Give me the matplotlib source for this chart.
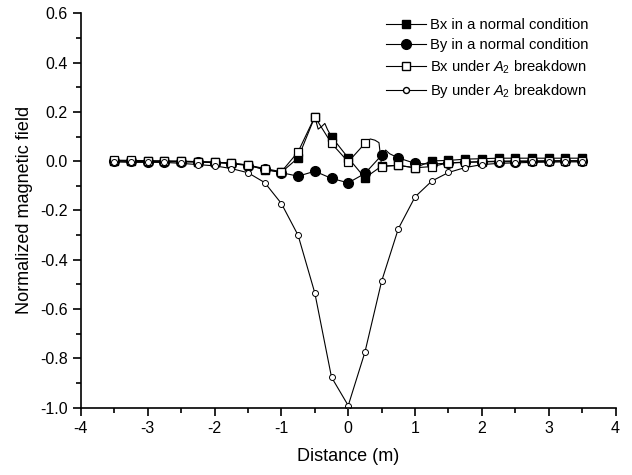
import matplotlib
matplotlib.use("Agg")
import matplotlib.pyplot as plt
from matplotlib.lines import Line2D

plt.rcParams['font.family'] = ['Liberation Sans', 'DejaVu Sans']
plt.rcParams['mathtext.fontset'] = 'custom'
plt.rcParams['mathtext.rm'] = 'Liberation Sans'
plt.rcParams['mathtext.it'] = 'Liberation Sans:italic'
plt.rcParams['axes.unicode_minus'] = False

# marker positions (m)
x = [-3.5, -3.25, -3.0, -2.75, -2.5, -2.25, -2.0, -1.75, -1.5, -1.25, -1.0,
     -0.75, -0.5, -0.25, 0.0, 0.25, 0.5, 0.75, 1.0, 1.25, 1.5, 1.75, 2.0,
     2.25, 2.5, 2.75, 3.0, 3.25, 3.5]

bx_normal = [0.002, 0.001, 0.0, 0.0, -0.001, -0.002, -0.004, -0.008, -0.016,
             -0.035, -0.045, 0.013, 0.18, 0.099, 0.013, -0.068, -0.02, -0.017,
             -0.027, 0.001, 0.003, 0.008, 0.01, 0.012, 0.012, 0.012, 0.012,
             0.012, 0.012]
by_normal = [0.0, -0.001, -0.002, -0.002, -0.003, -0.004, -0.006, -0.01, -0.018,
             -0.032, -0.047, -0.061, -0.041, -0.07, -0.088, -0.05, 0.024, 0.013,
             -0.009, -0.012, -0.008, -0.005, -0.003, -0.002, -0.002, -0.001,
             -0.001, 0.0, 0.0]
bx_a2 = [0.004, 0.003, 0.002, 0.001, 0.0, -0.002, -0.004, -0.008, -0.016,
         -0.03, -0.043, 0.038, 0.18, 0.072, -0.003, 0.072, -0.022, -0.017,
         -0.027, -0.022, -0.007, -0.004, -0.002, 0.0, 0.001, 0.001, 0.002,
         0.002, 0.002]
by_a2 = [-0.003, -0.005, -0.005, -0.005, -0.009, -0.014, -0.019, -0.03, -0.047,
         -0.087, -0.172, -0.301, -0.535, -0.877, -0.992, -0.775, -0.487,
         -0.274, -0.145, -0.081, -0.046, -0.026, -0.014, -0.009, -0.007,
         -0.005, -0.004, -0.003, -0.003]

# extra line points between markers (kinks seen in the curves)
bx_extra_x = [-0.45, -0.4, -0.35, -0.31]
bx_extra_y = [0.13, 0.14, 0.153, 0.128]
bxa2_extra_x = [0.33, 0.4, 0.46]
bxa2_extra_y = [0.09, 0.085, 0.075]
byn_extra_x = [0.56, 0.62]
byn_extra_y = [0.045, 0.03]


def merge(xs, ys, ex, ey):
    pts = sorted(list(zip(xs, ys)) + list(zip(ex, ey)))
    return [p[0] for p in pts], [p[1] for p in pts]


fig = plt.figure(figsize=(6.32, 4.75), dpi=100)
ax = fig.add_axes([0.128, 0.142, 0.846, 0.830])

lw = 0.8
sq = 6.0
lx, ly = merge(x, bx_normal, bx_extra_x, bx_extra_y)
ax.plot(lx, ly, color='black', lw=lw)
ax.plot(x, bx_normal, ls='none', marker='s', ms=sq, mfc='black', mec='black')

lx, ly = merge(x, by_normal, byn_extra_x, byn_extra_y)
ax.plot(lx, ly, color='black', lw=lw)
ax.plot(x, by_normal, ls='none', marker='o', ms=7.0, mfc='black', mec='black')

lx, ly = merge(x, bx_a2, bxa2_extra_x, bxa2_extra_y)
ax.plot(lx, ly, color='black', lw=lw)
ax.plot(x, bx_a2, ls='none', marker='s', ms=sq, mfc='white', mec='black', mew=0.9)

ax.plot(x, by_a2, color='black', lw=lw, marker='o', ms=4.3, mfc='white',
        mec='black', mew=0.7)

ax.set_xlim(-4, 4)
ax.set_ylim(-1.0, 0.6)
ax.set_xticks([-4, -3, -2, -1, 0, 1, 2, 3, 4])
ax.set_xticks([-3.5, -2.5, -1.5, -0.5, 0.5, 1.5, 2.5, 3.5], minor=True)
ax.set_yticks([-1.0, -0.8, -0.6, -0.4, -0.2, 0.0, 0.2, 0.4, 0.6])
ax.set_yticks([-0.9, -0.7, -0.5, -0.3, -0.1, 0.1, 0.3, 0.5], minor=True)
ax.set_yticklabels(['-1.0', '-0.8', '-0.6', '-0.4', '-0.2', '0.0', '0.2', '0.4', '0.6'])
ax.tick_params(which='major', direction='out', length=6, width=1.2, labelsize=11.5)
ax.tick_params(which='minor', direction='out', length=3.5, width=1.2)
for s in ['top', 'right']:
    ax.spines[s].set_visible(False)
for s in ['left', 'bottom']:
    ax.spines[s].set_linewidth(1.2)

ax.set_xlabel('Distance (m)', fontsize=13, labelpad=9)
ax.set_ylabel('Normalized magnetic field', fontsize=13, labelpad=5)

handles = [
    Line2D([], [], color='black', lw=lw, marker='s', ms=sq, mfc='black', mec='black'),
    Line2D([], [], color='black', lw=lw, marker='o', ms=7.0, mfc='black', mec='black'),
    Line2D([], [], color='black', lw=lw, marker='s', ms=sq, mfc='white', mec='black'),
    Line2D([], [], color='black', lw=lw, marker='o', ms=4.3, mfc='white', mec='black'),
]
labels = ['Bx in a normal condition', 'By in a normal condition',
          r'Bx under $A_2$ breakdown', r'By under $A_2$ breakdown']
ax.legend(handles, labels, loc='upper left', bbox_to_anchor=(0.56, 1.003),
          frameon=False, fontsize=10.6, handlelength=2.7, handletextpad=0.3,
          labelspacing=0.42, borderaxespad=0.0)

fig.savefig('out.png', dpi=100)
